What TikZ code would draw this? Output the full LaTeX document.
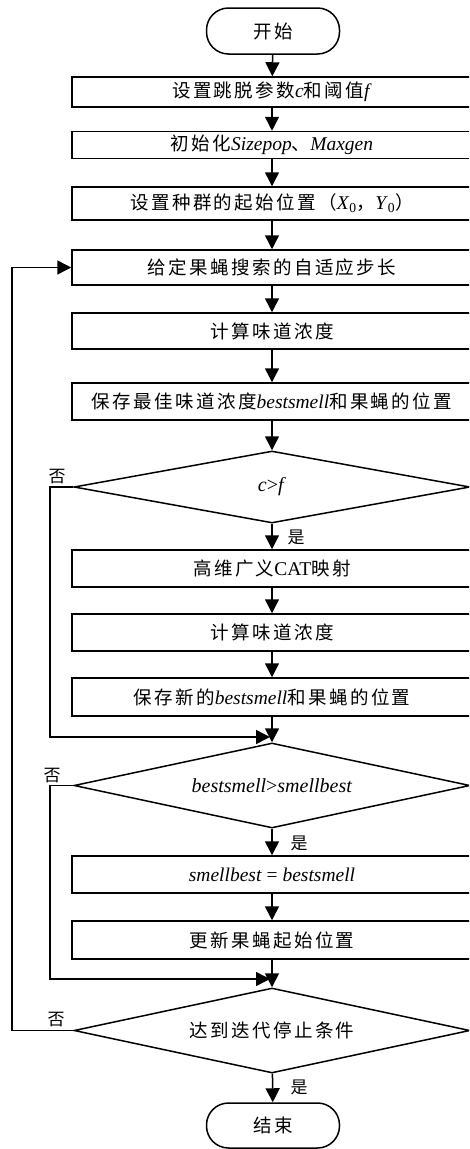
\documentclass[tikz,border=0pt]{standalone}
\usepackage{fontspec}
\setmainfont{Liberation Serif}
\newfontfamily\cjk{Noto Sans CJK SC}[LetterSpace=13]
\newfontfamily\cjkn{Noto Sans CJK SC}
\usetikzlibrary{arrows.meta,shapes.geometric}
\newcommand\zhtxt[1]{{\fontsize{18.5}{21}\cjk #1}}
\tikzset{
  base/.style={draw, line width=1.5pt, inner sep=0pt, align=center,
    font=\fontsize{19.5}{22}\selectfont},
  procbox/.style={base, rectangle, minimum width=400pt},
  termbox/.style={base, rectangle, rounded corners=22pt, minimum width=133pt, minimum height=46pt},
  decbox/.style={draw, line width=1.5pt, inner sep=0pt, diamond, minimum width=396pt},
  dectext/.style={inner sep=0pt, font=\fontsize{20}{22}\selectfont},
  flow/.style={line width=1.5pt, -{Triangle[length=14pt,width=14pt]}},
  lbl/.style={inner sep=0pt, font=\cjkn\fontsize{17}{19}\selectfont}
}
\begin{document}
\begin{tikzpicture}[x=1pt,y=-1pt]
\useasboundingbox (0,0) rectangle (469,1149);
\clip (0,0) rectangle (469,1149);
\node[termbox] (start) at (273,31) {\zhtxt{开始}};
\node[procbox, minimum height=30pt] (b1) at (272,92) {\zhtxt{设置跳脱参数}\textit{c}\zhtxt{和阈值}\textit{f}};
\node[procbox, minimum height=27pt] (b2) at (272,145) {\zhtxt{初始化}\textit{Sizepop}\zhtxt{、}\textit{Maxgen}};
\node[procbox, minimum height=33pt] (b3) at (272,203.5) {\zhtxt{设置种群的起始位置（}\textit{X}\textsubscript{0}\zhtxt{，}\textit{Y}\textsubscript{0}\zhtxt{）}};
\node[procbox, minimum height=35pt] (b4) at (272,267.5) {\zhtxt{给定果蝇搜索的自适应步长}};
\node[procbox, minimum height=36pt] (b5) at (272,331) {\zhtxt{计算味道浓度}};
\node[procbox, minimum height=37pt] (b6) at (272,401.5) {\zhtxt{保存最佳味道浓度}\textit{bestsmell}\zhtxt{和果蝇的位置}};
\node[decbox, minimum height=72pt] (d1) at (272,487) {};
\node[dectext] (t1) at (d1) {\textit{c}>\textit{f}};
\node[procbox, minimum height=37pt] (b7) at (272,568.5) {\zhtxt{高维广义}CAT\zhtxt{映射}};
\node[procbox, minimum height=37pt] (b8) at (272,632.5) {\zhtxt{计算味道浓度}};
\node[procbox, minimum height=38pt] (b9) at (272,697) {\zhtxt{保存新的}\textit{bestsmell}\zhtxt{和果蝇的位置}};
\node[decbox, minimum height=85pt] (d2) at (272,785.5) {};
\node[dectext] (t2) at (d2) {\textit{bestsmell}>\textit{smellbest}};
\node[procbox, minimum height=37pt] (b10) at (272,874.5) {\textit{smellbest} = \textit{bestsmell}};
\node[procbox, minimum height=38pt] (b11) at (272,940) {\zhtxt{更新果蝇起始位置}};
\node[decbox, minimum height=85pt] (d3) at (272,1030.5) {};
\node[dectext] (t3) at (d3) {\zhtxt{达到迭代停止条件}};
\node[termbox, minimum height=45pt] (end) at (273,1125.5) {\zhtxt{结束}};
\coordinate (j1) at (270,737);
\coordinate (j2) at (270,979);
\coordinate (l1) at (50,487);
\coordinate (l2) at (50,785.5);
\coordinate (l3) at (12,1030.5);

\draw[flow] (start) -- (b1);
\draw[flow] (b1) -- (b2);
\draw[flow] (b2) -- (b3);
\draw[flow] (b3) -- (b4);
\draw[flow] (b4) -- (b5);
\draw[flow] (b5) -- (b6);
\draw[flow] (b6) -- (d1);
\draw[flow] (d1) -- (b7);
\draw[flow] (b7) -- (b8);
\draw[flow] (b8) -- (b9);
\draw[flow] (b9) -- (d2);
\draw[flow] (d2) -- (b10);
\draw[flow] (b10) -- (b11);
\draw[flow] (b11) -- (d3);
\draw[flow] (d3) -- (end);
\draw[flow] (d1.west) -- (l1) |- (j1);
\draw[flow] (d2.west) -- (l2) |- (j2);
\draw[flow] (d3.west) -- (l3) |- (b4.west);

\node[lbl] (n1) at (57,477) {否};
\node[lbl] (n2) at (52,776) {否};
\node[lbl] (n3) at (56,1020) {否};
\node[lbl] (y1) at (296,537) {是};
\node[lbl] (y2) at (299,843) {是};
\node[lbl] (y3) at (299,1087) {是};
\end{tikzpicture}
\end{document}
